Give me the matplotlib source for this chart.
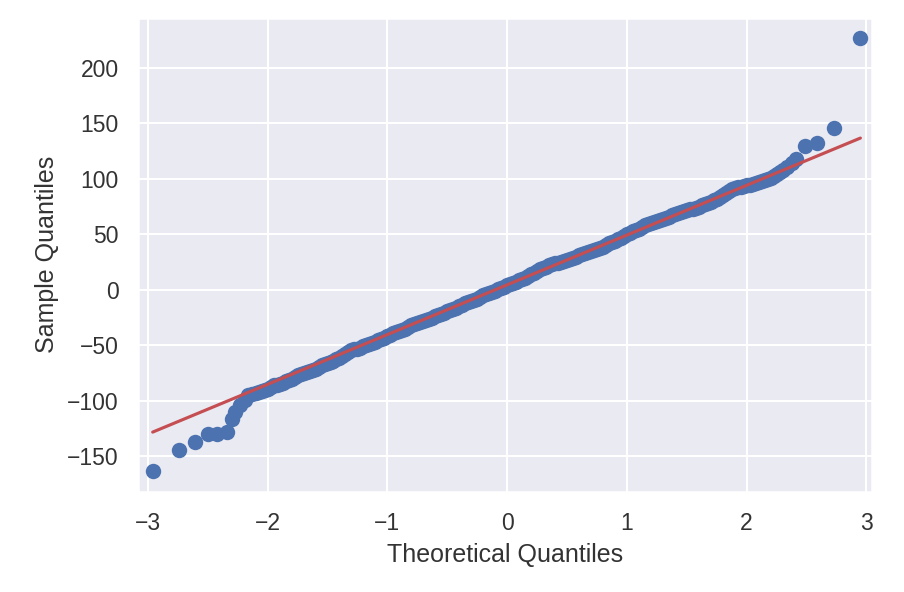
import numpy as np
import matplotlib.pyplot as plt
import seaborn as sns

## tema seaborn (darkgrid) y fuente tipo Arial
sns.set_theme(style="darkgrid")
plt.rcParams['font.family'] = ['Liberation Sans', 'DejaVu Sans']

## DATOS leidos del grafico
## cola izquierda
tail_left_x = [-2.96, -2.74, -2.61, -2.50, -2.42, -2.34, -2.30, -2.27, -2.23, -2.19, -2.16, -2.13]
tail_left_y = [-163, -144, -137, -130, -130, -128, -116, -110, -104, -99, -95, -94]

## cuerpo central
body_x = [-2.10, -2.05, -2.00, -1.95, -1.90, -1.85, -1.80, -1.75, -1.70, -1.65,
          -1.60, -1.55, -1.50, -1.45, -1.40, -1.35, -1.30, -1.25, -1.20, -1.15,
          -1.10, -1.05, -1.00, -0.95, -0.90, -0.85, -0.80, -0.75, -0.70, -0.65,
          -0.60, -0.55, -0.50, -0.45, -0.40, -0.35, -0.30, -0.25, -0.20, -0.15,
          -0.10, -0.05, 0.00, 0.05, 0.10, 0.15, 0.20, 0.25, 0.30, 0.35,
          0.40, 0.45, 0.50, 0.55, 0.60, 0.65, 0.70, 0.75, 0.80, 0.85,
          0.90, 0.95, 1.00, 1.05, 1.10, 1.15, 1.20, 1.25, 1.30, 1.35,
          1.40, 1.45, 1.50, 1.55, 1.60, 1.65, 1.70, 1.75, 1.80, 1.85,
          1.90, 1.95, 2.00, 2.05, 2.10, 2.15, 2.20, 2.25, 2.30]
body_y = [-93, -91, -89, -86, -85, -82, -80, -77, -75, -73,
          -71, -68, -66, -64, -61, -58, -54, -53, -51, -49,
          -47, -44, -42, -39, -37, -35, -32, -30, -28, -26,
          -24, -22, -19, -17, -15, -12, -10, -8, -5, -3,
          -1, 2, 4, 6, 9, 11, 14, 17, 20, 22,
          24, 25, 27, 29, 31, 33, 35, 37, 39, 42,
          44, 47, 50, 53, 55, 58, 60, 62, 64, 66,
          68, 70, 72, 73, 75, 77, 79, 82, 85, 89,
          92, 93, 94, 95, 97, 99, 101, 104, 108]

## puntos intermedios del cuerpo (la banda es densa)
mid_x = [-2.075, -2.025, -1.975, -1.925, -1.875, -1.825, -1.775, -1.725, -1.675, -1.625,
         -1.575, -1.525, -1.475, -1.425, -1.375, -1.325, -1.275, -1.225, -1.175, -1.125,
         -1.075, -1.025, -0.975, -0.925, -0.875, -0.825, -0.775, -0.725, -0.675, -0.625,
         -0.575, -0.525, -0.475, -0.425, -0.375, -0.325, -0.275, -0.225, -0.175, -0.125,
         -0.075, -0.025, 0.025, 0.075, 0.125, 0.175, 0.225, 0.275, 0.325, 0.375,
         0.425, 0.475, 0.525, 0.575, 0.625, 0.675, 0.725, 0.775, 0.825, 0.875,
         0.925, 0.975, 1.025, 1.075, 1.125, 1.175, 1.225, 1.275, 1.325, 1.375,
         1.425, 1.475, 1.525, 1.575, 1.625, 1.675, 1.725, 1.775, 1.825, 1.875,
         1.925, 1.975, 2.025, 2.075, 2.125, 2.175, 2.225, 2.275]
mid_y = [-92, -90, -87.5, -85.5, -83.5, -81, -78.5, -76, -74, -72,
         -69.5, -67, -65, -62.5, -59.5, -56, -53.5, -52, -50, -48,
         -45.5, -43, -40.5, -38, -36, -33.5, -31, -29, -27, -25,
         -23, -20.5, -18, -16, -13.5, -11, -9, -6.5, -4, -2,
         0.5, 3, 5, 7.5, 10, 12.5, 15.5, 18.5, 21, 23,
         24.5, 26, 28, 30, 32, 34, 36, 38, 40.5, 43,
         45.5, 48.5, 51.5, 54, 56.5, 59, 61, 63, 65, 67,
         69, 71, 72.5, 74, 76, 78, 80.5, 83.5, 87, 90.5,
         92.5, 93.5, 94.5, 96, 98, 100, 102.5, 106]

## cola derecha
tail_right_x = [2.34, 2.38, 2.41, 2.49, 2.59, 2.73, 2.95]
tail_right_y = [111, 114, 117.5, 129.5, 132, 146, 227]

## linea de referencia (pendiente y ordenada)
line_slope = 44.8
line_intercept = 4.5

x = np.array(tail_left_x + body_x + mid_x + tail_right_x)
y = np.array(tail_left_y + body_y + mid_y + tail_right_y)

## CONFIGURACION DE GRAFICO
fig = plt.figure(figsize=(904/150, 592/150), dpi=150)
ax = fig.add_axes([0.153, 0.169, 0.812, 0.801])

ax.plot(x, y, 'o', color='#4C72B0', markersize=7.4, markeredgewidth=0)
lx = np.array([x.min(), x.max()])
ax.plot(lx, line_intercept + line_slope*lx, '-', color='#C44E52', linewidth=1.5)

ax.set_xlim(-3.08, 3.05)
ax.set_ylim(-182, 245)
ax.set_xticks([-3, -2, -1, 0, 1, 2, 3])
ax.set_yticks([-150, -100, -50, 0, 50, 100, 150, 200])
ax.tick_params(labelsize=11, colors='#333333')

ax.set_xlabel('Theoretical Quantiles', fontsize=12, color='#333333')
ax.set_ylabel('Sample Quantiles', fontsize=12, color='#333333')

plt.savefig("out.png", dpi=150)
